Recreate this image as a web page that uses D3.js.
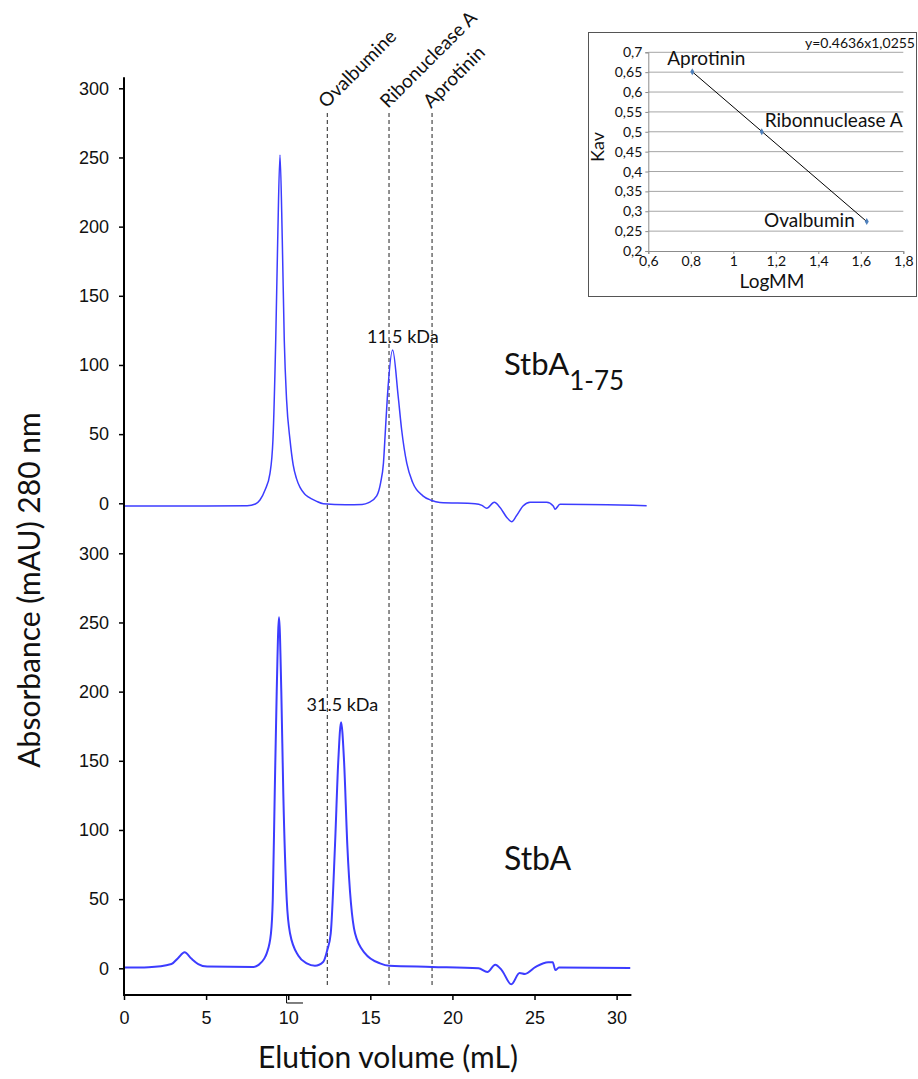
<!DOCTYPE html>
<html>
<head>
<meta charset="utf-8">
<script src="https://cdn.jsdelivr.net/npm/d3@7"></script>
<style>
    body { margin: 0; background: #fff; }
    svg { display: block; font-family: Lato, "Open Sans", sans-serif; }
    .axis text { font-size: 18px; fill: #111; }
    .axis line { stroke: #000; stroke-width: 1.5; }
    .axis-line { stroke: #000; stroke-width: 2; fill: none; }
    .trace { fill: none; stroke: #3c3cff; stroke-linejoin: round; }
    .marker-line { stroke: #222; stroke-width: 1; stroke-dasharray: 4 3; }
    .marker-text { font-size: 19px; fill: #111; }
    .title { font-size: 30px; fill: #111; }
    .inset-grid { stroke: #a6a6a6; stroke-width: 1; }
    .inset text { fill: #111; }
</style>
</head>
<body>
<svg id="chart" width="918" height="1079"></svg>
<script>
// elution volume (mL) / absorbance (mAU)
const xTicks = [0, 5, 10, 15, 20, 25, 30];
const yTicks = [0, 50, 100, 150, 200, 250, 300];

const traceStbA175 = [
    [0, -2], [5, -2], [7.5, -1.8], [8.0, -0.5], [8.28, 2.4], [8.59, 9.6], [8.89, 21.7],
    [9.07, 45.8], [9.24, 118], [9.36, 190], [9.5, 251.8], [9.64, 190], [9.76, 118],
    [9.9, 75], [10.11, 45.8], [10.3, 28], [10.5, 18], [10.72, 11.5], [11.0, 6.8],
    [11.22, 4.6], [11.7, 1.6], [12.14, -0.3], [13.5, -1], [14.5, -0.8], [14.9, 0.5],
    [15.39, 5.4], [15.63, 15], [15.8, 29], [15.92, 53], [16.04, 77], [16.36, 110.8],
    [16.7, 77], [16.91, 53], [17.22, 29], [17.58, 15], [18.2, 5.4], [18.7, 2.2],
    [19.24, 0.6], [21.38, -0.3], [21.8, -1.5], [22.09, -3.6], [22.55, 0.7], [22.9, -3],
    [23.3, -10], [23.61, -13.3], [23.9, -9], [24.3, -2], [24.73, 0.7], [25.74, 0.7],
    [26.14, -2], [26.25, -4.3], [26.55, -0.7], [31.83, -1.7]
];

const traceStbA = [
    [0.06, 0.5], [1.5, 0.8], [2.89, 3.1], [3.3, 7.5], [3.69, 11.6], [4.1, 7], [4.52, 3.1],
    [5.06, 1.3], [7.89, 1.0], [8.2, 2.5], [8.54, 7], [8.69, 10.8], [8.95, 25.3], [9.06, 49.5],
    [9.18, 127], [9.3, 200], [9.44, 253.8], [9.58, 200], [9.7, 127], [9.91, 49.5],
    [10.11, 25.3], [10.62, 9], [11.13, 3.6], [11.63, 1.9], [12.14, 4.8], [12.38, 13.2],
    [12.59, 25.3], [12.85, 89], [13.05, 150], [13.22, 177.9], [13.4, 150], [13.6, 89],
    [14.07, 25.3], [14.68, 10.8], [15.59, 3.6], [16.16, 1.8], [18.76, 1], [21.59, 0],
    [22.13, -2.6], [22.61, 2.6], [23.0, -1.3], [23.59, -11.6], [24.09, -3.4], [24.42, -4.1],
    [25.07, 1], [25.83, 4.4], [26.11, 4.4], [26.27, -1.3], [26.49, 0.5], [30.83, 0.3]
];

const markerNames = ['Ovalbumine', 'Ribonuclease A', 'Aprotinin'];
const markerVolumes = [12.38, 16.14, 18.76];

const peakLabels = ['11.5 kDa', '31.5 kDa'];
const peakLabelVol = [16.98, 13.3];
const peakLabelAbs = [116, 186];

// calibration inset
const calibNames = ['Aprotinin', 'Ribonnuclease A', 'Ovalbumin'];
const calibLogMM = [0.807, 1.134, 1.628];
const calibKav = [0.651, 0.5, 0.274];
const insetXTicks = [0.6, 0.8, 1, 1.2, 1.4, 1.6, 1.8];
const insetYTicks = [0.2, 0.25, 0.3, 0.35, 0.4, 0.45, 0.5, 0.55, 0.6, 0.65, 0.7];
const equation = 'y=0.4636x1,0255';

const svg = d3.select('#chart');

const x = d3.scaleLinear().domain([0, 30.9]).range([124, 631.4]);
const yTop = d3.scaleLinear().domain([0, 300]).range([503.3, 88.3]);
const yBot = d3.scaleLinear().domain([0, 300]).range([968.3, 553.3]);

const line = y => d3.line()
    .x(d => x(d[0]))
    .y(d => y(d[1]))
    .curve(d3.curveMonotoneX);

// marker lines
const markers = svg.append('g');
markerVolumes.forEach((v, i) => {
    markers.append('line')
        .attr('class', 'marker-line')
        .attr('x1', x(v)).attr('x2', x(v))
        .attr('y1', 113).attr('y2', 988);
    markers.append('text')
        .attr('class', 'marker-text')
        .attr('transform', 'translate(' + (x(v) - 1) + ',109) rotate(-45)')
        .text(markerNames[i]);
});

// traces
svg.append('path')
    .datum(traceStbA175)
    .attr('class', 'trace')
    .attr('stroke-width', 1.5)
    .attr('d', line(yTop));
svg.append('path')
    .datum(traceStbA)
    .attr('class', 'trace')
    .attr('stroke-width', 2)
    .attr('d', line(yBot));

// axes
svg.append('g')
    .attr('class', 'axis')
    .attr('transform', 'translate(124,0)')
    .call(d3.axisLeft(yTop).tickValues(yTicks).tickSize(5).tickPadding(10));
svg.append('g')
    .attr('class', 'axis')
    .attr('transform', 'translate(124,0)')
    .call(d3.axisLeft(yBot).tickValues(yTicks).tickSize(5).tickPadding(10));
svg.append('g')
    .attr('class', 'axis')
    .attr('transform', 'translate(0,' + yBot(-19.3) + ')')
    .call(d3.axisBottom(x).tickValues(xTicks).tickSize(5).tickPadding(11));
svg.selectAll('.axis .domain').remove();

svg.append('path')
    .attr('class', 'axis-line')
    .attr('d', 'M' + x(0) + ',' + yTop(308) + 'V' + yBot(-19.3) + 'H' + x(30.9));

// stray tick near 10 mL
svg.append('path')
    .attr('fill', 'none').attr('stroke', '#000').attr('stroke-width', 1)
    .attr('d', 'M' + x(9.9) + ',' + (yBot(-19.3) + 1) + 'V' + (yBot(-19.3) + 8) + 'H' + x(10.9));

// peak labels
svg.append('text')
    .attr('x', x(peakLabelVol[0])).attr('y', yTop(peakLabelAbs[0]))
    .attr('text-anchor', 'middle').attr('font-size', 18).attr('fill', '#111')
    .text(peakLabels[0]);
svg.append('text')
    .attr('x', x(peakLabelVol[1])).attr('y', yBot(peakLabelAbs[1]))
    .attr('text-anchor', 'middle').attr('font-size', 18).attr('fill', '#111')
    .text(peakLabels[1]);

// panel names
const nameTop = svg.append('text')
    .attr('x', 504).attr('y', 375)
    .attr('font-size', 31).attr('fill', '#111');
nameTop.append('tspan').text('StbA');
nameTop.append('tspan').attr('font-size', 26).attr('dy', 15).text('1-75');

svg.append('text')
    .attr('x', 504).attr('y', 870)
    .attr('font-size', 32).attr('fill', '#111')
    .text('StbA');

// titles
svg.append('text')
    .attr('class', 'title')
    .attr('text-anchor', 'middle')
    .attr('transform', 'translate(40,590) rotate(-90)')
    .text('Absorbance (mAU) 280 nm');
svg.append('text')
    .attr('class', 'title')
    .attr('text-anchor', 'middle')
    .attr('x', 388).attr('y', 1068)
    .text('Elution volume (mL)');

// ---- inset: calibration curve ----
const inset = svg.append('g').attr('class', 'inset');
inset.append('rect')
    .attr('x', 588.5).attr('y', 32.5)
    .attr('width', 328).attr('height', 264)
    .attr('fill', '#fff').attr('stroke', '#555').attr('stroke-width', 1);

const ix = d3.scaleLinear().domain([0.6, 1.8]).range([648.3, 903.3]);
const iy = d3.scaleLinear().domain([0.2, 0.7]).range([251, 52.3]);
const commaFmt = d => String(d).replace('.', ',');

inset.selectAll('.inset-grid')
    .data(insetYTicks.slice(1))
    .enter().append('line')
    .attr('class', 'inset-grid')
    .attr('x1', ix(0.6)).attr('x2', ix(1.8))
    .attr('y1', d => iy(d)).attr('y2', d => iy(d));

const iyAxis = inset.append('g')
    .attr('transform', 'translate(' + ix(0.6) + ',0)')
    .call(d3.axisLeft(iy).tickValues(insetYTicks).tickSize(3).tickPadding(3).tickFormat(commaFmt));
const ixAxis = inset.append('g')
    .attr('transform', 'translate(0,' + iy(0.2) + ')')
    .call(d3.axisBottom(ix).tickValues(insetXTicks).tickSize(3).tickPadding(2).tickFormat(commaFmt));
[iyAxis, ixAxis].forEach(g => {
    g.attr('font-family', null).attr('font-size', null);
    g.selectAll('text').attr('font-size', 14).attr('fill', '#111');
    g.selectAll('line').attr('stroke', '#8c8c8c');
    g.select('.domain').attr('stroke', '#8c8c8c');
});

inset.append('line')
    .attr('x1', ix(calibLogMM[0])).attr('y1', iy(calibKav[0]))
    .attr('x2', ix(calibLogMM[2])).attr('y2', iy(calibKav[2]))
    .attr('stroke', '#000').attr('stroke-width', 1);

inset.selectAll('.calib-pt')
    .data(calibLogMM)
    .enter().append('path')
    .attr('class', 'calib-pt')
    .attr('d', d3.symbol().type(d3.symbolDiamond).size(14))
    .attr('transform', (d, i) => 'translate(' + ix(d) + ',' + iy(calibKav[i]) + ')')
    .attr('fill', '#4f81bd');

// point labels
const calibLabelPos = [
    {dx: -25, dy: -7, anchor: 'start'},
    {dx: 3, dy: -5, anchor: 'start'},
    {dx: -12, dy: 5, anchor: 'end'}
];
calibNames.forEach((n, i) => {
    inset.append('text')
        .attr('x', ix(calibLogMM[i]) + calibLabelPos[i].dx)
        .attr('y', iy(calibKav[i]) + calibLabelPos[i].dy)
        .attr('text-anchor', calibLabelPos[i].anchor)
        .attr('font-size', 19)
        .text(n);
});

inset.append('text')
    .attr('x', 915).attr('y', 48)
    .attr('text-anchor', 'end').attr('font-size', 14)
    .text(equation);
inset.append('text')
    .attr('transform', 'translate(604,147) rotate(-90)')
    .attr('text-anchor', 'middle').attr('font-size', 18)
    .text('Kav');
inset.append('text')
    .attr('x', 772).attr('y', 288)
    .attr('text-anchor', 'middle').attr('font-size', 19)
    .text('LogMM');
</script>
</body>
</html>
